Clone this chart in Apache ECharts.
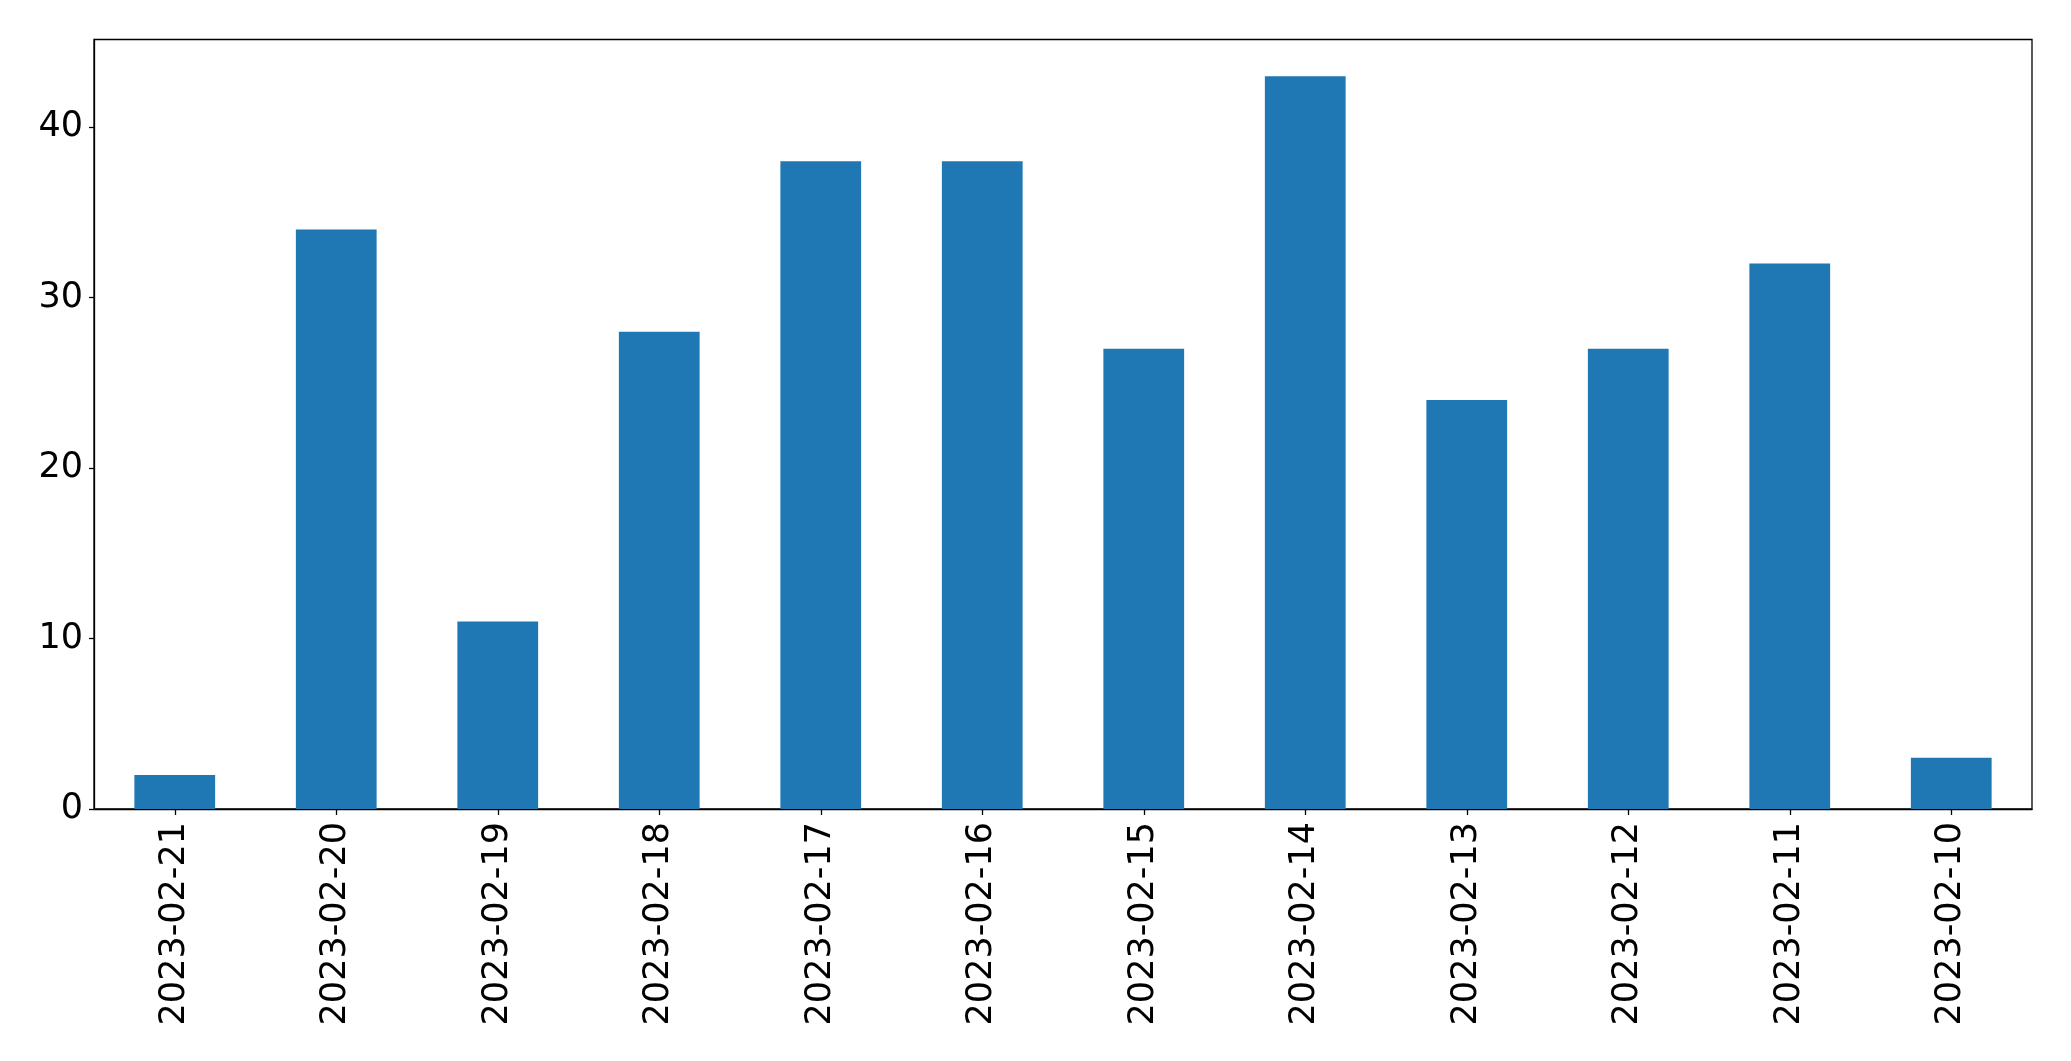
<!DOCTYPE html>
<html><head><meta charset="utf-8">
<script src="https://cdn.jsdelivr.net/npm/echarts@6/dist/echarts.min.js"></script>
<style>html,body{margin:0;padding:0;background:#fff}#c{width:2071px;height:1061px}</style>
</head><body><div id="c"></div>
<script>
const categories = ["2023-02-21","2023-02-20","2023-02-19","2023-02-18","2023-02-17","2023-02-16","2023-02-15","2023-02-14","2023-02-13","2023-02-12","2023-02-11","2023-02-10"];
const counts = [2, 34, 11, 28, 38, 38, 27, 43, 24, 27, 32, 3];
const yTicks = [0, 10, 20, 30, 40];

const chart = echarts.init(document.getElementById('c'), null, {renderer: 'canvas'});
const font = 'DejaVu Sans';
chart.setOption({
  animation: false,
  backgroundColor: '#fff',
  grid: {left: 94, top: 39.5, width: 1938, height: 769.5, show: true, borderColor: '#000', borderWidth: 1.3, backgroundColor: 'transparent'},
  xAxis: {
    type: 'category', data: categories,
    axisLine: {show: true, lineStyle: {color: '#000', width: 1.3}},
    axisTick: {show: true, alignWithLabel: true, length: 6, lineStyle: {color: '#000', width: 1.3}},
    axisLabel: {rotate: 90, fontFamily: font, fontSize: 35, color: '#000', margin: 13, interval: 0},
    splitLine: {show: false}
  },
  yAxis: {
    type: 'value', min: 0, max: 45.15, interval: 10,
    axisLine: {show: true, lineStyle: {color: '#000', width: 1.3}},
    axisTick: {show: true, length: 5, lineStyle: {color: '#000', width: 1.3}, customValues: yTicks},
    axisLabel: {fontFamily: font, fontSize: 35, color: '#000', margin: 11, customValues: yTicks},
    splitLine: {show: false}
  },
  series: [{type: 'bar', data: counts, barWidth: '50%', itemStyle: {color: '#1f77b4'}}]
});
</script></body></html>
